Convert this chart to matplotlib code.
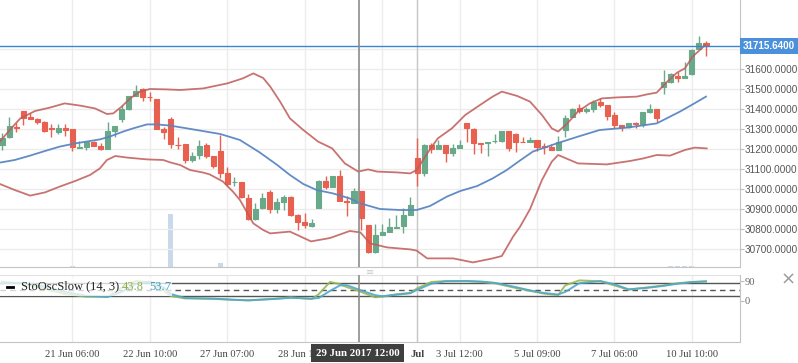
import matplotlib
matplotlib.use('Agg')
import matplotlib.pyplot as plt
from matplotlib.patches import Rectangle
from matplotlib.lines import Line2D
import numpy as np

# ---- candles (one per bar) ----
opens = [31220, 31262, 31312, 31390, 31358, 31350, 31337, 31305, 31283, 31303,
         31300, 31205, 31212, 31235, 31215, 31200, 31290, 31348, 31398, 31467,
         31498, 31460, 31450, 31300, 31350, 31222, 31223, 31145, 31170, 31220,
         31165, 31190, 31082, 31033, 31037, 30953, 30850, 30903, 30987, 30900,
         30937, 30958, 30870, 30833, 30817, 30903, 31040, 31012, 31065, 30938,
         30932, 30990, 30820, 30687, 30770, 30787, 30807, 30815, 30870, 31153,
         31078, 31220, 31200, 31220, 31178, 31207, 31328, 31300, 31228, 31230,
         31238, 31240, 31290, 31273, 31235, 31233, 31245, 31213, 31208, 31195,
         31295, 31362, 31403, 31392, 31400, 31433, 31420, 31370, 31320, 31308,
         31328, 31325, 31387, 31400, 31508, 31533, 31567, 31557, 31575, 31700,
         31728]
highs = [31278, 31358, 31332, 31392, 31378, 31357, 31342, 31325, 31325, 31325,
         31300, 31240, 31240, 31242, 31228, 31333, 31315, 31420, 31467, 31520,
         31503, 31487, 31450, 31312, 31362, 31258, 31223, 31187, 31245, 31228,
         31165, 31270, 31108, 31062, 31037, 30975, 30928, 30978, 30995, 30953,
         30970, 30965, 30875, 30878, 30850, 31045, 31065, 31065, 31095, 30965,
         31003, 30990, 30820, 30825, 30825, 30857, 30870, 30903, 30958, 31253,
         31223, 31228, 31245, 31220, 31225, 31245, 31328, 31303, 31228, 31233,
         31273, 31290, 31290, 31278, 31262, 31258, 31245, 31228, 31223, 31265,
         31370, 31403, 31425, 31412, 31445, 31453, 31420, 31387, 31320, 31328,
         31333, 31387, 31425, 31400, 31595, 31582, 31583, 31633, 31698, 31765,
         31740]
lows = [31195, 31255, 31287, 31320, 31348, 31325, 31287, 31262, 31275, 31265,
        31190, 31203, 31195, 31217, 31195, 31200, 31262, 31337, 31395, 31467,
        31442, 31442, 31300, 31250, 31207, 31198, 31128, 31137, 31148, 31153,
        31107, 31053, 31015, 31015, 30953, 30845, 30845, 30898, 30878, 30878,
        30895, 30865, 30795, 30803, 30808, 30903, 30998, 31012, 30942, 30865,
        30932, 30795, 30678, 30682, 30770, 30787, 30807, 30782, 30870, 31015,
        31067, 31182, 31198, 31137, 31167, 31207, 31237, 31173, 31178, 31167,
        31228, 31233, 31190, 31187, 31233, 31233, 31192, 31175, 31195, 31195,
        31262, 31358, 31378, 31378, 31387, 31408, 31345, 31303, 31290, 31303,
        31307, 31312, 31378, 31337, 31473, 31528, 31533, 31557, 31570, 31700,
        31667]
closes = [31253, 31315, 31303, 31357, 31352, 31337, 31292, 31300, 31303, 31295,
          31212, 31208, 31233, 31217, 31200, 31290, 31315, 31400, 31467, 31490,
          31462, 31458, 31300, 31287, 31223, 31220, 31145, 31165, 31215, 31165,
          31115, 31082, 31025, 31037, 30958, 30848, 30900, 30953, 30900, 30933,
          30962, 30870, 30837, 30822, 30828, 31040, 31012, 31065, 30942, 30935,
          30990, 30857, 30687, 30770, 30785, 30812, 30812, 30870, 30920, 31078,
          31220, 31198, 31220, 31178, 31203, 31220, 31307, 31232, 31227, 31233,
          31240, 31290, 31207, 31237, 31233, 31245, 31212, 31212, 31195, 31237,
          31357, 31400, 31392, 31400, 31433, 31420, 31367, 31320, 31312, 31328,
          31325, 31387, 31398, 31357, 31533, 31573, 31553, 31567, 31695, 31728,
          31715.64]

# volume (only a few bars visible)
volume_idx = [10, 24, 31, 95, 96, 97, 98]
volume = [0.4, 20, 1.5, 0.4, 0.4, 0.4, 0.4]

# ---- Bollinger bands, read at candle positions ----
upper_x = [-0.3, 1.1, 2.6, 4.7, 6.8, 8.9, 11.1, 13.2, 14.9, 15.8, 17.0, 18.2, 19.6,
           21.0, 23.4, 25.3, 28.6, 32.0, 34.2, 35.7, 37.1, 38.1, 39.5, 40.9, 42.8,
           44.9, 46.9, 48.7, 50.6, 52.0, 53.3, 56.1, 58.0, 58.9, 60.4, 61.9, 63.9,
           65.8, 67.9, 69.7, 71.0, 73.2, 75.0, 76.7, 78.1, 79.0, 80.3, 81.8, 83.5,
           85.2, 87.4, 90.2, 91.6, 93.0, 94.5, 95.9, 97.0, 98.1, 99.9]
upper = [31237, 31295, 31353, 31390, 31407, 31428, 31417, 31403, 31375, 31378, 31412,
         31453, 31487, 31500, 31498, 31495, 31503, 31528, 31553, 31578, 31555, 31512,
         31437, 31353, 31295, 31237, 31203, 31128, 31087, 31098, 31087, 31083, 31078,
         31095, 31178, 31253, 31303, 31370, 31420, 31462, 31487, 31465, 31437, 31370,
         31303, 31287, 31328, 31387, 31428, 31453, 31458, 31462, 31473, 31482, 31537,
         31582, 31603, 31662, 31720]

middle_x = [-0.3, 1.8, 4.0, 6.1, 8.2, 10.4, 12.5, 13.9, 15.3, 17.2, 18.6, 20.6, 22.0,
            23.9, 26.3, 31.0, 33.8, 36.6, 39.1, 40.9, 42.8, 44.7, 47.0, 49.4, 50.9,
            53.7, 56.5, 58.9, 60.8, 63.2, 65.1, 67.5, 69.7, 71.7, 73.6, 75.4, 78.8,
            82.1, 84.9, 88.8, 93.0, 96.3, 98.2, 100.0]
middle = [31132, 31145, 31167, 31190, 31212, 31228, 31240, 31248, 31262, 31287, 31303,
          31323, 31323, 31317, 31303, 31275, 31245, 31183, 31120, 31070, 31025, 30995,
          30978, 30953, 30928, 30900, 30895, 30895, 30915, 30962, 30990, 31015, 31053,
          31095, 31143, 31187, 31228, 31265, 31295, 31307, 31328, 31387, 31425, 31462]

lower_x = [-0.3, 1.8, 4.0, 6.1, 8.2, 10.4, 12.5, 13.9, 14.9, 16.1, 17.8, 20.6, 22.9,
           23.9, 25.3, 26.7, 28.6, 29.5, 31.4, 32.8, 33.8, 35.7, 37.1, 38.1, 40.9,
           43.9, 46.6, 49.4, 50.9, 52.3, 54.7, 58.0, 58.9, 60.4, 64.1, 66.9, 69.7,
           71.0, 72.6, 73.6, 75.0, 76.7, 78.1, 79.0, 81.8, 85.9, 89.2, 91.1, 93.0,
           94.9, 97.0, 98.4, 100.1]
lower = [31025, 30995, 30967, 30983, 31012, 31040, 31070, 31103, 31145, 31165, 31157,
         31148, 31145, 31133, 31120, 31095, 31082, 31073, 31037, 30987, 30945, 30828,
         30795, 30778, 30787, 30738, 30755, 30790, 30783, 30728, 30708, 30698, 30692,
         30653, 30653, 30633, 30653, 30665, 30762, 30812, 30899, 31045, 31137, 31170,
         31128, 31123, 31140, 31153, 31170, 31167, 31195, 31207, 31203]

# ---- slow stochastic (14, 3) ----
stoch_x = [0, 3, 6, 9, 12, 15, 17, 19, 21, 23, 24, 26, 30, 33, 35, 39, 41, 44, 45, 46.6,
           48, 49, 51, 53, 54, 56, 58, 59, 61, 63, 66, 68, 70, 73, 75, 77, 79, 80, 82,
           85, 87, 89, 92, 94, 96, 98, 100]
stoch_k = [87, 78, 55, 30, 18, 18, 60, 90, 85, 45, 21, 10, 8, 3, 1, 9, 15, 7, 30, 86,
           76, 62, 40, 15, 18, 29, 35, 57, 86, 90, 90, 86, 80, 58, 45, 32, 25, 70, 93,
           89, 70, 50, 62, 70, 80, 86, 89]
stoch_d = [80, 82, 65, 40, 22, 17, 40, 75, 88, 60, 30, 12, 9, 4, 1, 8, 13, 9, 12, 45,
           70, 71, 47, 25, 20, 27, 34, 50, 78, 89, 90, 88, 82, 62, 47, 35, 28, 40, 80,
           90, 75, 52, 60, 68, 78, 85, 88]

tick_pos = [10, 21, 32, 43, 54, 59, 65, 76, 87, 98]
tick_labels = ['21 Jun 06:00', '22 Jun 10:00', '27 Jun 07:00', '28 Jun 11:00', '',
               'Jul', '3 Jul 12:00', '5 Jul 09:00', '7 Jul 06:00', '10 Jul 10:00']
price_ticks = [30700, 30800, 30900, 31000, 31100, 31200, 31300, 31400, 31500, 31600, 31700]
crosshair_pos = 50.64
crosshair_label = '29 Jun 2017 12:00'

W, H = 798, 363
UP, DOWN = '#68a98a', '#e8604f'
GRID = '#ececec'


def frac(x0, y0, x1, y1):
    return [x0 / W, 1 - y1 / H, (x1 - x0) / W, (y1 - y0) / H]


def px(x, y):
    return x / W, 1 - y / H


fig = plt.figure(figsize=(W / 100, H / 100), dpi=100)
ax = fig.add_axes(frac(0, 0, 739.5, 267))
ax_osc = fig.add_axes(frac(0, 275, 739.5, 342), sharex=ax)
xlim = (-0.284, 104.76)

# volume behind the candles
vol_ax = ax.twinx()
vol_ax.bar(volume_idx, volume, width=0.72, color='#c9d8ea', zorder=1)
vol_ax.set_ylim(0, 100)
vol_ax.set_axis_off()
vol_ax.set_zorder(1)
ax.set_zorder(2)
ax.patch.set_visible(False)

# candles
x = np.arange(len(closes))
o = np.array(opens)
c = np.array(closes)
colors = [UP if cc >= oo else DOWN for oo, cc in zip(o, c)]
ax.vlines(x, lows, highs, colors=colors, lw=1, zorder=3)
ax.bar(x, c - o, bottom=o, width=0.72, color=colors, edgecolor=colors, lw=0.8, zorder=4)

# bands
ax.plot(upper_x, upper, color='#bf5b58', lw=1.3, alpha=0.85, zorder=5)
ax.plot(lower_x, lower, color='#bf5b58', lw=1.3, alpha=0.85, zorder=5)
ax.plot(middle_x, middle, color='#5a86c2', lw=1.3, alpha=0.95, zorder=5)

# last price line and label
last = closes[-1]
ax.axhline(last, color='#3a86d2', lw=1, zorder=6)
ax.text(1.0 + 3 / 739.5, last, f'{last:.4f}', transform=ax.get_yaxis_transform(),
        ha='left', va='center', color='white', fontsize=7.1, fontweight='bold',
        family='Liberation Sans', clip_on=False,
        bbox=dict(boxstyle='square,pad=0.3', fc='#4a90da', ec='none'), zorder=10)

ax.set_xlim(*xlim)
ax.set_ylim(30610, 31945)
ax.yaxis.tick_right()
ax.set_yticks(price_ticks)
ax.set_yticklabels([f'{p:.4f}' if p != 31700 else '' for p in price_ticks],
                   family='Liberation Sans', fontsize=7.2, color='#555555')
ax.tick_params(axis='y', length=3, width=0.8, color='#bdbdbd', pad=0.5)
ax.set_xticks(tick_pos)
ax.tick_params(axis='x', length=0, labelbottom=False)
ax.grid(True, color=GRID, lw=1, zorder=0)
ax.set_axisbelow(True)
for s in ['top', 'left']:
    ax.spines[s].set_visible(False)
for s in ['right', 'bottom']:
    ax.spines[s].set_color('#c4c4c4')
ax.axvline(tick_pos[5], color='#c8c8c8', lw=1, zorder=1)
ax.axvline(crosshair_pos, color='#8c8c8c', lw=1.2, zorder=7)

# stochastic panel
ax_osc.plot(stoch_x, stoch_k, color='#96b955', lw=1.4, alpha=0.9, zorder=4)
ax_osc.plot(stoch_x, stoch_d, color='#4fa8cc', lw=1.4, alpha=0.9, zorder=4)
for lvl, ls in [(80, '-'), (50, (0, (4, 3))), (20, '-')]:
    ax_osc.axhline(lvl, color='#555555', lw=1, ls=ls, zorder=3)
ax_osc.set_ylim(-191, 118)
ax_osc.set_xlim(*xlim)
ax_osc.yaxis.tick_right()
ax_osc.set_yticks([0, 90])
ax_osc.set_yticklabels(['0', '90'], family='Liberation Serif', fontsize=7.6, color='#666666')
ax_osc.tick_params(axis='y', length=3, width=0.8, color='#bdbdbd', pad=1)
ax_osc.set_xticks(tick_pos)
ax_osc.set_xticklabels(tick_labels, family='Liberation Serif', fontsize=7.6, color='#444444')
ax_osc.get_xticklabels()[5].set_fontweight('bold')
ax_osc.tick_params(axis='x', length=0, pad=6)
ax_osc.grid(True, axis='x', color=GRID, lw=1, zorder=0)
ax_osc.set_axisbelow(True)
ax_osc.spines['left'].set_visible(False)
ax_osc.spines['top'].set_color('#e2e2e2')
for s in ['right', 'bottom']:
    ax_osc.spines[s].set_color('#c4c4c4')
ax_osc.axvline(tick_pos[5], color='#c8c8c8', lw=1, zorder=1)
ax_osc.axvline(crosshair_pos, color='#8c8c8c', lw=1.2, zorder=7)

# legend of the oscillator
fig.add_artist(Rectangle(px(0, 296), 172 / W, 19 / H, transform=fig.transFigure,
                         fc='white', ec='none', alpha=0.75, zorder=5))
fig.add_artist(Line2D([7 / W, 13 / W], [px(0, 286.5)[1]] * 2, transform=fig.transFigure,
                      color='black', lw=2, zorder=6))
fig.text(*px(21, 286.5), 'StoOscSlow (14, 3)', family='Liberation Serif', fontsize=9,
         color='#222222', va='center', ha='left', zorder=6)
fig.text(*px(122, 286.5), '43.8', family='Liberation Serif', fontsize=9,
         color='#8caf4b', va='center', ha='left', zorder=6)
fig.text(*px(149, 286.5), '53.7', family='Liberation Serif', fontsize=9,
         color='#3a9dc6', va='center', ha='left', zorder=6)

# crosshair date label
fig.text(*px(357.5, 353), crosshair_label, family='Liberation Serif', fontsize=7.8,
         fontweight='bold', color='white', ha='center', va='center', zorder=8,
         bbox=dict(boxstyle='square,pad=0.45', fc='#3f3f3f', ec='none'))

# resize handle and close button
fig.text(*px(370, 272), '≡', fontsize=7, color='#c2cad8', ha='center', va='center')
fig.text(*px(788, 280), '×', fontsize=13, color='#9a9a9a', ha='center', va='center')

fig.savefig('out.png', dpi=100)
